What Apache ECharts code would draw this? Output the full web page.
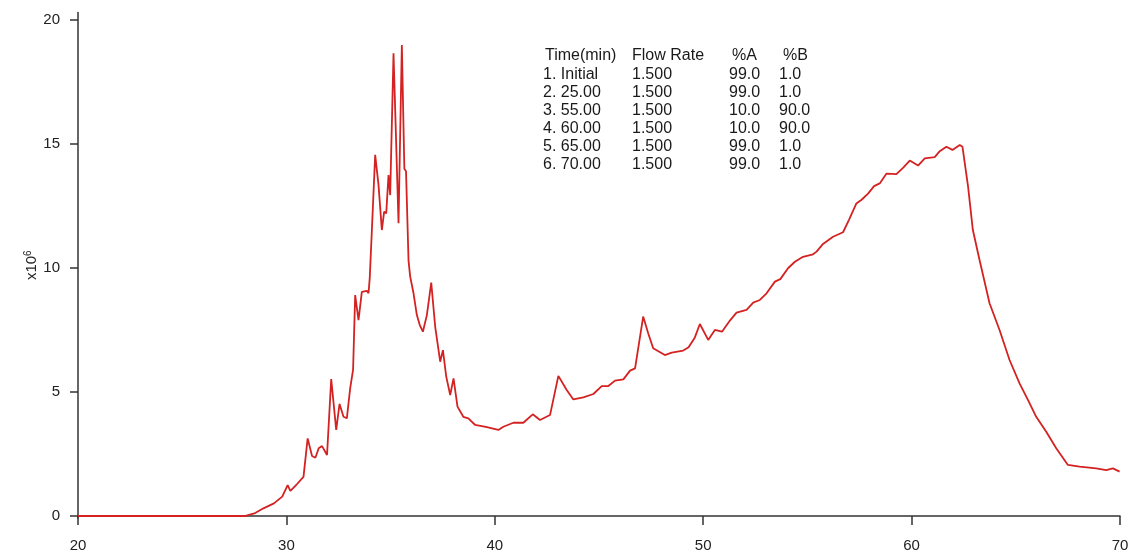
<!DOCTYPE html>
<html>
<head>
<meta charset="utf-8">
<script src="https://cdn.jsdelivr.net/npm/echarts@6.0.0/dist/echarts.min.js"></script>
<style>
html,body{margin:0;padding:0;background:#fff;}
#chart{width:1133px;height:554px;}
</style>
</head>
<body>
<div id="chart"></div>
<script>
// retention time (min)
const times = [
  20.0, 22.0, 25.0, 27.5, 28.0, 28.5, 28.9, 29.4, 29.8, 30.06, 30.19, 30.5, 30.82,
  31.02, 31.23, 31.39, 31.55, 31.71, 31.95, 32.15, 32.39, 32.55, 32.74, 32.9, 33.06,
  33.2, 33.3, 33.46, 33.62, 33.86, 33.94, 34.0, 34.1, 34.26, 34.42, 34.58, 34.69,
  34.79, 34.9, 34.98, 35.14, 35.38, 35.54, 35.66, 35.74, 35.86, 35.94, 36.1, 36.26,
  36.4, 36.55, 36.74, 36.95, 37.14, 37.38, 37.51, 37.67, 37.86, 38.02, 38.21, 38.49,
  38.73, 39.06, 39.62, 40.17, 40.41, 40.89, 41.37, 41.82, 42.17, 42.65, 43.05, 43.45,
  43.77, 44.25, 44.73, 45.13, 45.45, 45.77, 46.17, 46.49, 46.73, 47.12, 47.36, 47.6,
  48.16, 48.49, 49.04, 49.3, 49.6, 49.84, 50.24, 50.56, 50.9, 51.3, 51.6, 52.08,
  52.4, 52.72, 53.04, 53.44, 53.7, 54.07, 54.4, 54.79, 55.27, 55.44, 55.75, 56.23,
  56.71, 57.0, 57.35, 57.6, 57.91, 58.2, 58.47, 58.79, 59.27, 59.6, 59.91, 60.31,
  60.63, 61.11, 61.35, 61.67, 61.96, 62.31, 62.44, 62.71, 62.94, 63.26, 63.74, 64.22,
  64.7, 65.18, 65.6, 65.98, 66.46, 66.94, 67.5, 68.06, 68.86, 69.34, 69.66, 69.98
];
// signal (x10^6)
const signal = [
  0, 0, 0, 0, 0, 0.12, 0.31, 0.51, 0.78, 1.25, 1.01, 1.28, 1.58,
  3.13, 2.42, 2.35, 2.73, 2.82, 2.46, 5.52, 3.47, 4.52, 4.0, 3.94, 5.15,
  5.9, 8.91, 7.9, 9.04, 9.08, 8.98, 9.6, 11.5, 14.56, 13.35, 11.53, 12.27,
  12.2, 13.75, 12.94, 18.66, 11.8, 18.99, 14.0, 13.9, 10.3, 9.65, 8.98, 8.1,
  7.7, 7.43, 8.1, 9.41, 7.63, 6.22, 6.69, 5.62, 4.88, 5.55, 4.41, 4.0,
  3.94, 3.67, 3.58, 3.47, 3.6, 3.76, 3.76, 4.1, 3.87, 4.07, 5.65, 5.08,
  4.7, 4.78, 4.92, 5.24, 5.24, 5.46, 5.51, 5.86, 5.95, 8.04, 7.37, 6.76,
  6.49, 6.59, 6.67, 6.8, 7.2, 7.74, 7.1, 7.5, 7.43, 7.9, 8.2, 8.31,
  8.6, 8.71, 8.98, 9.45, 9.55, 9.99, 10.25, 10.45, 10.55, 10.66, 10.97, 11.26,
  11.44, 11.95, 12.6, 12.75, 13.0, 13.3, 13.41, 13.8, 13.78, 14.05, 14.33, 14.13,
  14.42, 14.47, 14.71, 14.89, 14.76, 14.96, 14.89, 13.28, 11.53, 10.32, 8.58, 7.5,
  6.29, 5.35, 4.65, 4.0, 3.4, 2.73, 2.06, 1.99, 1.92, 1.85, 1.92, 1.79
];
const yTicks = [0, 5, 10, 15, 20];
const tableHeader = ['Time(min)', 'Flow Rate', '%A', '%B'];
const tableRows = [
  ['1. Initial', '1.500', '99.0', '1.0'],
  ['2. 25.00', '1.500', '99.0', '1.0'],
  ['3. 55.00', '1.500', '10.0', '90.0'],
  ['4. 60.00', '1.500', '10.0', '90.0'],
  ['5. 65.00', '1.500', '99.0', '1.0'],
  ['6. 70.00', '1.500', '99.0', '1.0']
];

const FONT = "'Liberation Sans', Arial, Helvetica, sans-serif";
const headerX = [545, 632, 732, 783];
const rowX = [543, 632, 729, 779];
const tableTop = 57, rowGap = 18.1;

const graphics = [];
tableHeader.forEach((t, i) => {
  graphics.push({type: 'text', left: headerX[i], top: tableTop - 9,
    style: {text: t, font: '16px ' + FONT, fill: '#1a1a1a'}});
});
tableRows.forEach((row, r) => {
  row.forEach((t, i) => {
    graphics.push({type: 'text', left: rowX[i], top: tableTop + (r + 1) * rowGap - 9,
      style: {text: t, font: '16px ' + FONT, fill: '#1a1a1a'}});
  });
});

const chart = echarts.init(document.getElementById('chart'), null, {renderer: 'canvas'});
chart.setOption({
  animation: false,
  backgroundColor: '#fff',
  grid: {left: 78, right: 13, top: 12.5, bottom: 36, containLabel: false},
  xAxis: {
    type: 'value', min: 20, max: 70, interval: 10,
    axisLine: {lineStyle: {color: '#333', width: 1.5}},
    axisTick: {length: 9, lineStyle: {color: '#333', width: 1.5}},
    axisLabel: {color: '#222', fontSize: 15, fontFamily: FONT, margin: 20},
    splitLine: {show: false}
  },
  yAxis: {
    type: 'value', min: -0.08, max: 20.3,
    name: 'x10{sup|6}',
    nameLocation: 'middle', nameGap: 37, nameRotate: 90,
    nameMoveOverlap: false,
    nameTextStyle: {color: '#222', fontSize: 15, fontFamily: FONT,
      rich: {sup: {fontSize: 10, fontFamily: FONT, color: '#222', verticalAlign: 'top', padding: [0, 0, 8, 0]}}},
    axisLine: {show: true, lineStyle: {color: '#333', width: 1.5}},
    axisTick: {show: true, length: 8, customValues: yTicks, lineStyle: {color: '#333', width: 1.5}},
    axisLabel: {color: '#222', fontSize: 15, fontFamily: FONT, margin: 18, customValues: yTicks},
    splitLine: {show: false}
  },
  graphic: graphics,
  series: [{
    type: 'line',
    data: times.map((t, i) => [t, signal[i]]),
    showSymbol: false,
    symbol: 'none',
    lineStyle: {color: '#d42222', width: 1.8},
    itemStyle: {color: '#d42222'}
  }]
});
</script>
</body>
</html>
